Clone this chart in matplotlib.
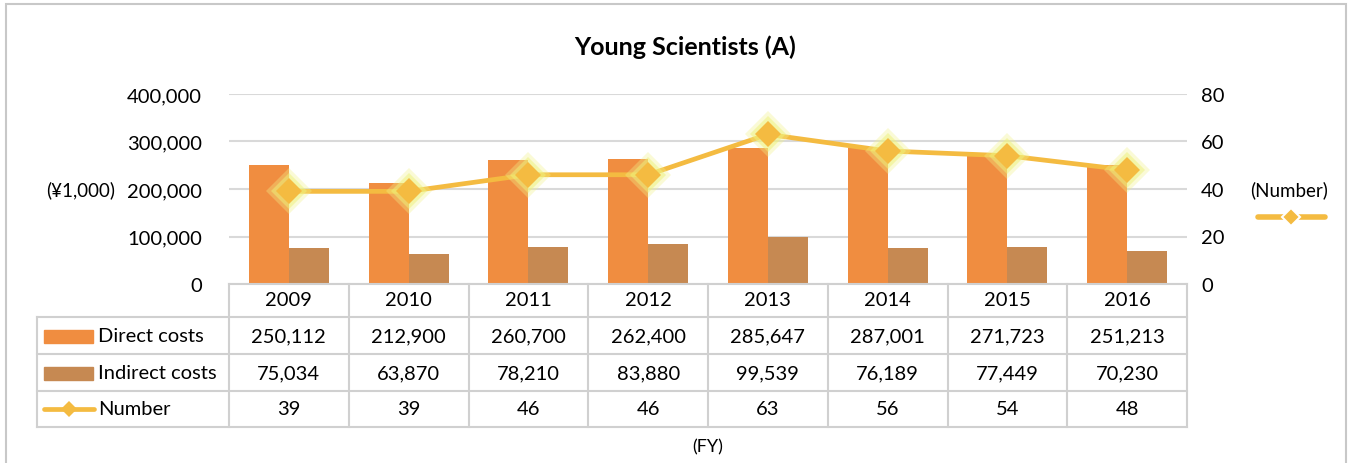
import matplotlib.pyplot as plt
import matplotlib.transforms as mtransforms
from matplotlib.patches import Rectangle
from matplotlib.lines import Line2D
import numpy as np

plt.rcParams['font.family'] = ['Lato', 'DejaVu Sans']

# data
years = ["2009", "2010", "2011", "2012", "2013", "2014", "2015", "2016"]
direct = [250112, 212900, 260700, 262400, 285647, 287001, 271723, 251213]
indirect = [75034, 63870, 78210, 83880, 99539, 76189, 77449, 70230]
number = [39, 39, 46, 46, 63, 56, 54, 48]

c_direct = "#F08D40"
c_indirect = "#C68952"
c_line = "#F4BB41"
c_grid = "#D9D9D9"
c_table = "#D0D0D0"

W, H = 1354, 464
fig = plt.figure(figsize=(W / 100, H / 100), dpi=100)

# axes placed in pixel terms
x0, x1 = 229, 1187
y_top, y_bot = 95, 285
ax = fig.add_axes([x0 / W, 1 - y_bot / H, (x1 - x0) / W, (y_bot - y_top) / H])
ax2 = ax.twinx()

x = np.arange(len(years))
bw = 1 / 3
ax.bar(x - bw / 2, direct, bw, color=c_direct, zorder=2)
ax.bar(x + bw / 2, indirect, bw, color=c_indirect, zorder=2)

ax.set_xlim(-0.5, len(years) - 0.5)
ax.set_ylim(0, 400000)
ax.set_yticks(range(0, 400001, 100000))
ax.set_yticklabels([f"{v:,}" for v in range(0, 400001, 100000)])
ax.yaxis.grid(True, color=c_grid, linewidth=1.5, zorder=0)
ax.set_axisbelow(True)
ax.set_xticks([])
for s in ax.spines.values():
    s.set_visible(False)
for s in ax2.spines.values():
    s.set_visible(False)
ax.tick_params(axis="y", length=0, labelsize=14.5, pad=19.5)

# line with glow
ax2.plot(x, number, color=c_line, linewidth=3.4, zorder=3, solid_capstyle="round")
ax2.plot(x, number, linestyle="none", marker="D", markersize=23,
         color="#F2F28A", alpha=0.35, markeredgewidth=0, zorder=3)
ax2.plot(x, number, linestyle="none", marker="D", markersize=18,
         color="#EEF27A", alpha=0.5, markeredgewidth=0, zorder=3)
ax2.plot(x, number, linestyle="none", marker="D", markersize=13,
         color=c_line, markeredgewidth=0, zorder=4)
ax2.set_ylim(0, 80)
ax2.set_yticks(range(0, 81, 20))
ax2.tick_params(axis="y", length=0, labelsize=14.5, pad=10)

# axis line at bottom
ax.plot([0, 1], [0, 0], transform=ax.transAxes, color=c_table, linewidth=1.5,
        clip_on=False, zorder=5)

# data table drawn below the axes
trans = mtransforms.blended_transform_factory(ax.transData, fig.transFigure)
tfig = fig.transFigure


def fy(py):
    return 1 - py / H


def fx(px):
    return px / W


row_lines = [318, 355, 392, 428]
tab_left = 37
for py in row_lines:
    fig.add_artist(Line2D([fx(tab_left), fx(x1)], [fy(py), fy(py)],
                          color=c_table, linewidth=1.5))
fig.add_artist(Line2D([fx(tab_left), fx(tab_left)], [fy(318), fy(428)],
                      color=c_table, linewidth=1.5))
for k in range(len(years) + 1):
    px = x0 + k * (x1 - x0) / len(years)
    fig.add_artist(Line2D([fx(px), fx(px)], [fy(285), fy(428)],
                          color=c_table, linewidth=1.5))

fs = 14.5
for i, yr in enumerate(years):
    ax.text(i, fy(301), yr, transform=trans, ha="center", va="center", fontsize=fs)
    ax.text(i, fy(337), f"{direct[i]:,}", transform=trans, ha="center", va="center", fontsize=fs)
    ax.text(i, fy(374), f"{indirect[i]:,}", transform=trans, ha="center", va="center", fontsize=fs)
    ax.text(i, fy(410), f"{number[i]}", transform=trans, ha="center", va="center", fontsize=fs)

# row headers with legend keys
fig.add_artist(Rectangle((fx(44), fy(344)), fx(49), 13 / H, color=c_direct,
                         transform=tfig))
fig.add_artist(Rectangle((fx(44), fy(381)), fx(49), 13 / H, color=c_indirect,
                         transform=tfig))
fig.add_artist(Line2D([fx(44), fx(94)], [fy(410), fy(410)], color=c_line,
                      linewidth=3.4, solid_capstyle="round"))
fig.add_artist(Line2D([fx(69)], [fy(410)], color=c_line, marker="D",
                      markersize=8, markeredgewidth=0))
fig.text(fx(98), fy(337), "Direct costs", ha="left", va="center", fontsize=fs)
fig.text(fx(98), fy(374), "Indirect costs", ha="left", va="center", fontsize=fs)
fig.text(fx(98), fy(410), "Number", ha="left", va="center", fontsize=fs)

# labels
fig.text(0.5 + 8 / W, fy(47), "Young Scientists (A)", ha="center", va="center",
         fontsize=18, fontweight="bold")
fig.text(fx(81), fy(190), "(¥1,000)", ha="center", va="center", fontsize=13.5)
fig.text(fx(1289), fy(190), "(Number)", ha="center", va="center", fontsize=13.5)
fig.add_artist(Line2D([fx(1258), fx(1325)], [fy(218), fy(218)], color=c_line,
                      linewidth=4, solid_capstyle="round"))
fig.add_artist(Line2D([fx(1291)], [fy(218)], color=c_line, marker="D",
                      markersize=9, markeredgewidth=1.5, markeredgecolor="white"))
fig.text(fx(708), fy(447), "(FY)", ha="center", va="center", fontsize=13)

# outer frame
fig.add_artist(Rectangle((fx(6), fy(470)), fx(1340), 465 / H, transform=tfig,
                         fill=False, edgecolor="#C8C8C8", linewidth=1.5))

fig.savefig("out.png", dpi=100)
